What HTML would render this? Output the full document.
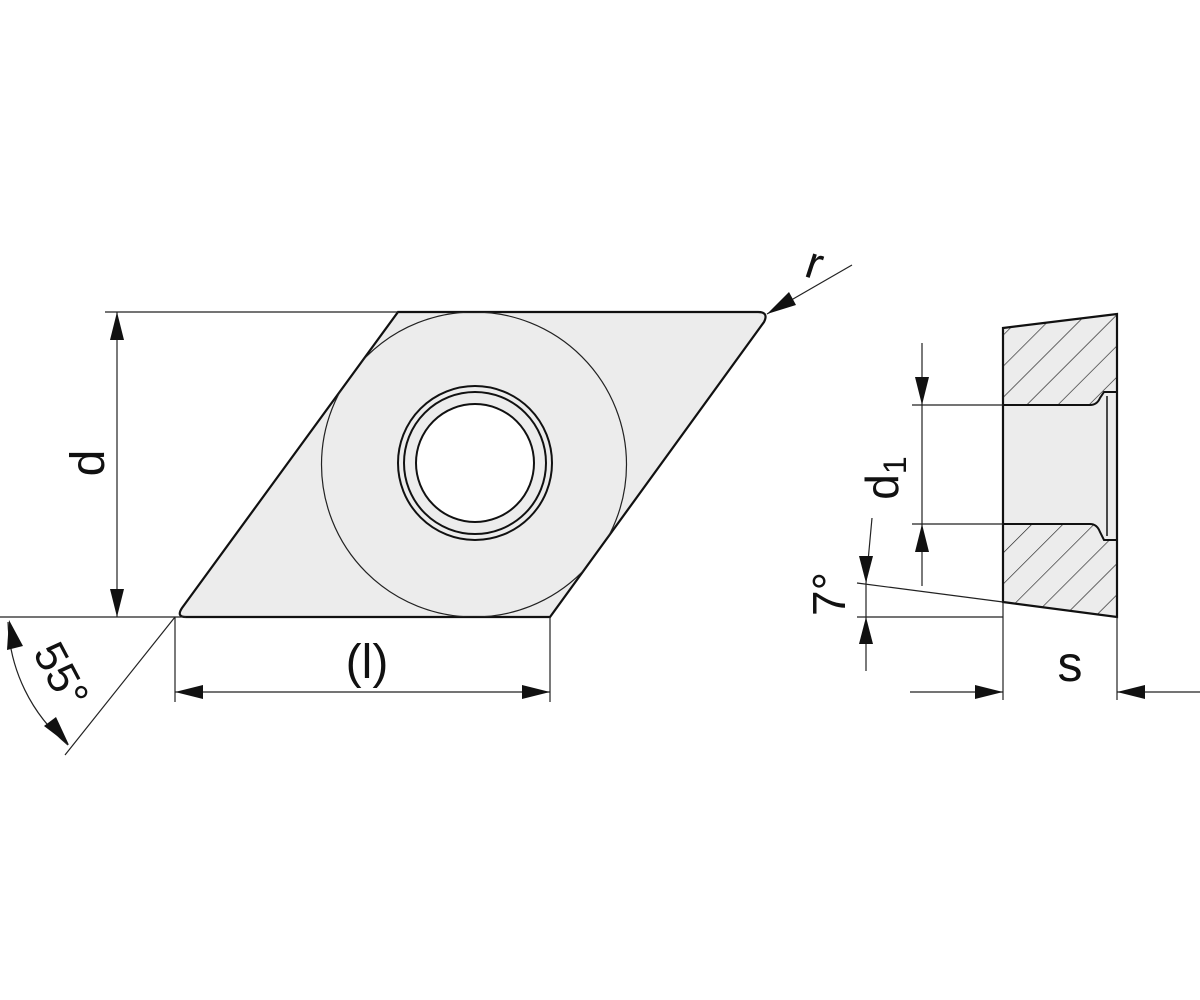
<!DOCTYPE html>
<html><head><style>html,body{margin:0;padding:0;background:#fff}svg{display:block}</style></head>
<body>
<svg width="1200" height="1000" viewBox="0 0 1200 1000" xmlns="http://www.w3.org/2000/svg" font-family="Liberation Sans, sans-serif">
<defs>
<pattern id="h" patternUnits="userSpaceOnUse" width="22" height="22" patternTransform="rotate(45)">
<rect width="22" height="22" fill="#ececec"/>
<line x1="0" y1="0" x2="0" y2="22" stroke="#222" stroke-width="1.3"/>
</pattern>
<clipPath id="rh"><path d="M398,312 L758,312 Q769,312 764,322 L550,617 L186,617 Q176,617 182,608 Z"/></clipPath>
</defs>
<!-- rhombus -->
<path d="M398,312 L758,312 Q769,312 764,322 L550,617 L186,617 Q176,617 182,608 Z" fill="#ececec" stroke="#111" stroke-width="2.2"/>
<circle cx="474" cy="464.5" r="152.5" fill="none" stroke="#222" stroke-width="1.2" clip-path="url(#rh)"/>
<circle cx="475" cy="463" r="77" fill="none" stroke="#111" stroke-width="2"/>
<circle cx="475" cy="463" r="71" fill="none" stroke="#111" stroke-width="2"/>
<circle cx="475" cy="463" r="59" fill="#fff" stroke="#111" stroke-width="2"/>
<!-- d dimension -->
<g stroke="#222" stroke-width="1.2" fill="none">
<line x1="105" y1="312" x2="398" y2="312"/>
<line x1="0" y1="617" x2="186" y2="617"/>
<line x1="117" y1="312" x2="117" y2="617"/>
<line x1="175" y1="617" x2="175" y2="702"/>
<line x1="550" y1="617" x2="550" y2="702"/>
<line x1="175" y1="692" x2="550" y2="692"/>
<line x1="175" y1="617" x2="65" y2="755"/>
<path d="M8,622 A167,167 0 0 0 68,745"/>
<line x1="767" y1="314" x2="852" y2="265"/>
</g>
<g fill="#111">
<polygon points="117,312 110,340 124,340"/>
<polygon points="117,617 110,589 124,589"/>
<polygon points="175,692 203,685 203,699"/>
<polygon points="550,692 522,685 522,699"/>
<polygon points="9,620 7,650 23,646"/>
<polygon points="69,745 44,726 56,717"/>
<polygon points="767,314 789,292 796,305"/>
</g>
<text x="0" y="0" font-size="48" transform="translate(104,463) rotate(-90)" text-anchor="middle" fill="#111">d</text>
<text x="367" y="678" font-size="48" text-anchor="middle" fill="#111">(l)</text>
<text x="0" y="0" font-size="44" transform="translate(48,682) rotate(62)" text-anchor="middle" fill="#111">55°</text>
<text x="0" y="0" font-size="46" transform="translate(810,278) rotate(18)" text-anchor="middle" fill="#111">r</text>
<!-- side view -->
<path d="M1003,328 L1117,314 L1117,617 L1003,602 Z" fill="url(#h)" stroke="none"/>
<path d="M1003,405 L1090,405 Q1097,405 1100,398 L1104,392 L1117,392 L1117,540 L1104,540 L1100,532 Q1097,524 1090,524 L1003,524 Z" fill="#ececec" stroke="#111" stroke-width="2"/>
<line x1="1107" y1="396" x2="1107" y2="536" stroke="#111" stroke-width="1.5"/>
<path d="M1003,328 L1117,314 L1117,617 L1003,602 Z" fill="none" stroke="#111" stroke-width="2.2"/>
<g stroke="#222" stroke-width="1.2" fill="none">
<line x1="912" y1="405" x2="1003" y2="405"/>
<line x1="912" y1="524" x2="1003" y2="524"/>
<line x1="922" y1="343" x2="922" y2="586"/>
<line x1="857" y1="583" x2="1003" y2="602"/>
<line x1="857" y1="617" x2="1003" y2="617"/>
<line x1="872" y1="518" x2="866" y2="583"/>
<line x1="866" y1="583" x2="866" y2="671"/>
<line x1="1003" y1="602" x2="1003" y2="700"/>
<line x1="1117" y1="617" x2="1117" y2="700"/>
<line x1="910" y1="692" x2="1003" y2="692"/>
<line x1="1117" y1="692" x2="1200" y2="692"/>
</g>
<g fill="#111">
<polygon points="922,405 915,377 929,377"/>
<polygon points="922,524 915,552 929,552"/>
<polygon points="866,583 859,556 873,556"/>
<polygon points="866,617 859,644 873,644"/>
<polygon points="1003,692 975,685 975,699"/>
<polygon points="1117,692 1145,685 1145,699"/>
</g>
<text x="0" y="0" font-size="46" transform="translate(898,478) rotate(-90)" text-anchor="middle" fill="#111">d<tspan font-size="32" dy="8">1</tspan></text>
<text x="0" y="0" font-size="46" transform="translate(845,594) rotate(-90)" text-anchor="middle" fill="#111">7°</text>
<text x="1070" y="681" font-size="50" text-anchor="middle" fill="#111">s</text>
</svg>
</body></html>
